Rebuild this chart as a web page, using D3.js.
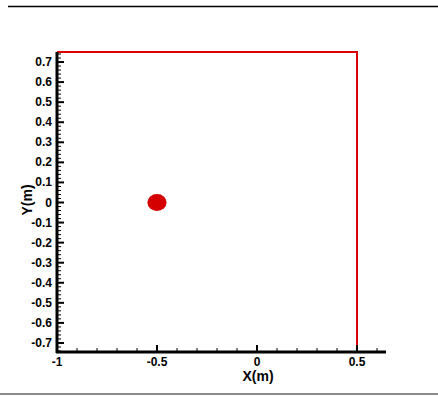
<!DOCTYPE html>
<html lang="en">
<head>
<meta charset="UTF-8">
<title>Domain</title>
<script src="https://d3js.org/d3.v7.min.js"></script>
<style>
  body { margin: 0; background: #fff; }
  text { font-family: "Liberation Sans", Arial, sans-serif; font-weight: bold; }
</style>
</head>
<body>
<svg width="438" height="396"></svg>
<script>
// data
const xMajor = [-1, -0.5, 0, 0.5];
const xLabels = ["-1", "-0.5", "0", "0.5"];
const yMajor = [0.7, 0.6, 0.5, 0.4, 0.3, 0.2, 0.1, 0, -0.1, -0.2, -0.3, -0.4, -0.5, -0.6, -0.7];
const yLabels = ["0.7", "0.6", "0.5", "0.4", "0.3", "0.2", "0.1", "0", "-0.1", "-0.2", "-0.3", "-0.4", "-0.5", "-0.6", "-0.7"];
const boundary = [[-1, 0.75], [0.5, 0.75], [0.5, -0.745]];
const body = { cx: -0.5, cy: 0, r: 0.048 };

const svg = d3.select("svg");
const x = d3.scaleLinear().domain([-1, 0.645]).range([57, 386]);
const y = d3.scaleLinear().domain([-0.745, 0.75]).range([352, 52]);

// frame lines
svg.append("line").attr("x1", 8).attr("x2", 438).attr("y1", 6.5).attr("y2", 6.5)
  .attr("stroke", "#000").attr("stroke-width", 1.5);
svg.append("line").attr("x1", 0).attr("x2", 438).attr("y1", 394).attr("y2", 394)
  .attr("stroke", "#666").attr("stroke-width", 1.5);

// boundary
svg.append("path")
  .attr("d", d3.line().x(d => x(d[0])).y(d => y(d[1]))(boundary))
  .attr("fill", "none").attr("stroke", "#dd0000").attr("stroke-width", 2);

// body
svg.append("ellipse")
  .attr("cx", x(body.cx)).attr("cy", y(body.cy))
  .attr("rx", x(body.cx + body.r) - x(body.cx))
  .attr("ry", y(body.cy) - y(body.cy + body.r * 0.88))
  .attr("fill", "#d40000");

// x axis
const xMinor = d3.range(-0.9, 0.65, 0.1).filter(v => Math.abs(v * 2 - Math.round(v * 2)) > 1e-6);
const gx = svg.append("g");
gx.append("line").attr("x1", x(-1) - 1).attr("x2", x(0.645)).attr("y1", 352).attr("y2", 352)
  .attr("stroke", "#000").attr("stroke-width", 3);
gx.selectAll(".maj").data(xMajor).join("line")
  .attr("x1", d => x(d)).attr("x2", d => x(d)).attr("y1", 352).attr("y2", 345)
  .attr("stroke", "#000").attr("stroke-width", 2);
gx.selectAll(".min").data(xMinor).join("line").attr("class", "min")
  .attr("x1", d => x(d)).attr("x2", d => x(d)).attr("y1", 352).attr("y2", 348)
  .attr("stroke", "#000").attr("stroke-width", 1);
gx.selectAll("text").data(xMajor).join("text")
  .attr("x", d => x(d)).attr("y", 366).attr("text-anchor", "middle")
  .attr("font-size", 12).text((d, i) => xLabels[i]);
svg.append("text").attr("x", 258).attr("y", 381).attr("text-anchor", "middle")
  .attr("font-size", 14).text("X(m)");

// y axis
const yMinor = d3.range(-37, 38).map(i => i * 0.02).filter(v => Math.abs(v * 10 - Math.round(v * 10)) > 1e-6);
const gy = svg.append("g");
gy.append("line").attr("x1", 57).attr("x2", 57).attr("y1", y(0.75)).attr("y2", 353)
  .attr("stroke", "#000").attr("stroke-width", 3);
gy.selectAll(".maj").data(yMajor).join("line")
  .attr("x1", 57).attr("x2", 64).attr("y1", d => y(d)).attr("y2", d => y(d))
  .attr("stroke", "#000").attr("stroke-width", 2);
gy.selectAll(".min").data(yMinor).join("line").attr("class", "min")
  .attr("x1", 57).attr("x2", 61).attr("y1", d => y(d)).attr("y2", d => y(d))
  .attr("stroke", "#000").attr("stroke-width", 1);
gy.selectAll("text").data(yMajor).join("text")
  .attr("x", 52).attr("y", d => y(d) + 4).attr("text-anchor", "end")
  .attr("font-size", 12).text((d, i) => yLabels[i]);
svg.append("text").attr("transform", "translate(32,200) rotate(-90)")
  .attr("text-anchor", "middle").attr("font-size", 14).text("Y(m)");
</script>
</body>
</html>
